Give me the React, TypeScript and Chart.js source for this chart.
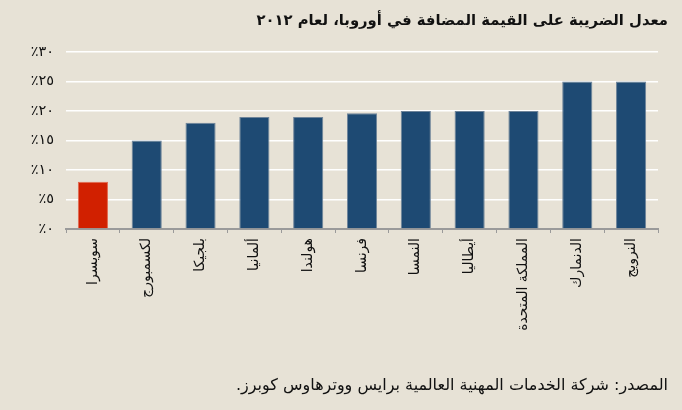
import React, { useEffect, useRef } from "react";
import { Chart, registerables } from "chart.js";

Chart.register(...registerables);

const titleText = "معدل الضريبة على القيمة المضافة في أوروبا، لعام ٢٠١٢";
const sourceText = "المصدر: شركة الخدمات المهنية العالمية برايس ووترهاوس كوبرز.";

const countries = [
  "سويسرا",
  "لكسمبورج",
  "بلجيكا",
  "ألمانيا",
  "هولندا",
  "فرنسا",
  "النمسا",
  "أيطاليا",
  "المملكة المتحدة",
  "الدنمارك",
  "النرويج",
];

const vatRates = [8, 15, 18, 19, 19, 19.6, 20, 20, 20, 25, 25];

const yTickLabels = ["٪٠", "٪٥", "٪١٠", "٪١٥", "٪٢٠", "٪٢٥", "٪٣٠"];

const BG = "#E7E2D6";
const BLUE = "#1E4A73";
const RED = "#D12000";
const FONT = "'DejaVu Sans', 'Noto Sans', sans-serif";

export default function App() {
  const canvasRef = useRef<HTMLCanvasElement | null>(null);

  useEffect(() => {
    const canvas = canvasRef.current;
    if (!canvas) return;
    const chart = new Chart(canvas, {
      type: "bar",
      data: {
        labels: countries,
        datasets: [
          {
            data: vatRates,
            backgroundColor: vatRates.map((_, i) => (i === 0 ? RED : BLUE)),
            borderColor: vatRates.map((_, i) => (i === 0 ? "#E2694F" : "#6E8499")),
            borderWidth: 1,
            borderSkipped: "bottom",
            barPercentage: 0.56,
            categoryPercentage: 1,
          },
        ],
      },
      options: {
        responsive: false,
        animation: false,
        devicePixelRatio: 1,
        layout: { padding: { top: 52, right: 24, left: 0, bottom: 0 } },
        plugins: {
          legend: { display: false },
          tooltip: { enabled: false },
          title: { display: false },
        },
        scales: {
          x: {
            offset: true,
            grid: {
              display: true,
              offset: true,
              drawOnChartArea: false,
              drawTicks: true,
              tickLength: 4,
              color: "#9A9A9A",
              lineWidth: 1,
            },
            border: { display: true, color: "#9A9A9A", width: 2 },
            ticks: {
              autoSkip: false,
              minRotation: 90,
              maxRotation: 90,
              padding: 5,
              color: "#111",
              font: { family: FONT, size: 14 },
            },
            afterFit: (scale: any) => {
              scale.height = 181;
            },
          },
          y: {
            min: 0,
            max: 30,
            grid: {
              color: "#FFFFFF",
              lineWidth: 1.5,
              drawTicks: false,
            },
            border: { display: false },
            ticks: {
              stepSize: 5,
              padding: 12,
              color: "#111",
              font: { family: FONT, size: 14.5 },
              callback: (value: any) => yTickLabels[Math.round(Number(value) / 5)],
            },
            afterFit: (scale: any) => {
              scale.width = 66;
            },
          },
        },
      },
    });
    return () => chart.destroy();
  }, []);

  return (
    <div
      style={{
        position: "fixed",
        left: 0,
        top: 0,
        width: 682,
        height: 410,
        background: BG,
        overflow: "hidden",
      }}
    >
      <canvas
        ref={canvasRef}
        width={682}
        height={410}
        style={{ position: "absolute", left: 0, top: 0, width: 682, height: 410 }}
      />
      <div
        dir="rtl"
        style={{
          position: "absolute",
          right: 14,
          top: 8,
          fontFamily: FONT,
          fontWeight: "bold",
          fontSize: 14.8,
          color: "#111",
          whiteSpace: "nowrap",
          lineHeight: "24px",
        }}
      >
        {titleText}
      </div>
      <div
        dir="rtl"
        style={{
          position: "absolute",
          right: 14,
          top: 373,
          fontFamily: FONT,
          fontSize: 16,
          color: "#111",
          whiteSpace: "nowrap",
          lineHeight: "24px",
        }}
      >
        {sourceText}
      </div>
    </div>
  );
}
